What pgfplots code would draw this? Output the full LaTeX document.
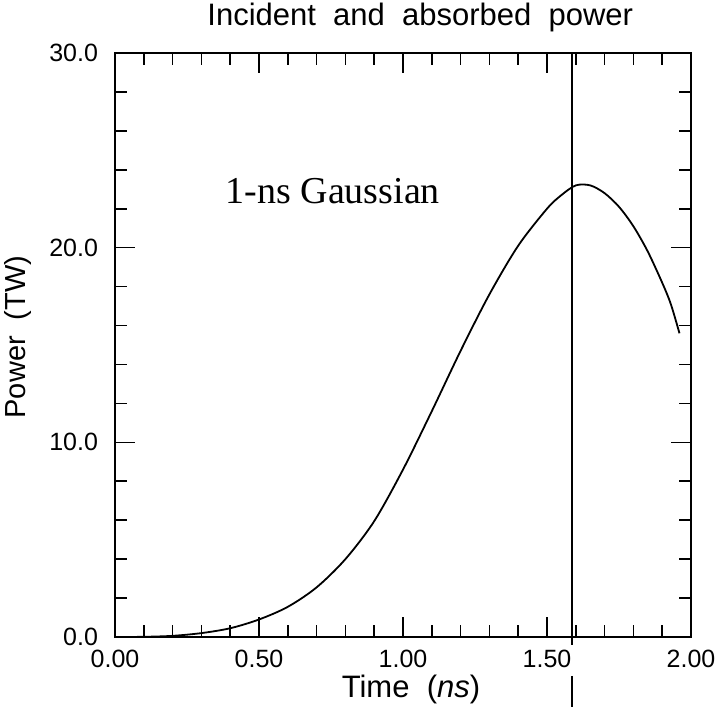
\documentclass[border=0pt]{standalone}
\usepackage{fontspec}
\setmainfont{Liberation Sans}
\newfontfamily\gfont{Liberation Serif}
\usepackage{pgfplots}
\pgfplotsset{compat=1.18}
\begin{document}
\begin{tikzpicture}
\useasboundingbox (-57.5pt,-36pt) rectangle (301.5pt,318.5pt);
\begin{axis}[
  at={(0,0)}, anchor=south west,
  scale only axis, width=288pt, height=292pt,
  xmin=0, xmax=2, ymin=0, ymax=30,
  xtick={0,0.5,1,1.5,2}, minor xtick={0.1,0.2,0.3,0.4,0.6,0.7,0.8,0.9,1.1,1.2,1.3,1.4,1.6,1.7,1.8,1.9},
  ytick={0,10,20,30}, minor ytick={2,4,6,8,12,14,16,18,22,24,26,28},
  tick align=inside, major tick length=10pt, minor tick length=6pt,
  xtick pos=both, ytick pos=both,
  xticklabel pos=bottom, yticklabel pos=left,
  tick style={black, line width=0.8pt},
  axis line style={line width=1pt},
  /pgf/number format/assume math mode=true,
  xticklabel style={/pgf/number format/.cd, fixed, fixed zerofill, precision=2, /tikz/.cd, font=\fontsize{12.5}{14}\selectfont, yshift=-3pt},
  yticklabel style={/pgf/number format/.cd, fixed, fixed zerofill, precision=1, /tikz/.cd, font=\fontsize{12.5}{14}\selectfont, xshift=-5pt},
  xlabel={Time\ \ (\textit{ns})},
  ylabel={Power\ \ (TW)},
  xlabel style={font=\fontsize{15.5}{17}\selectfont, yshift=3pt, xshift=4pt},
  ylabel style={font=\fontsize{14.5}{16}\selectfont, yshift=2pt, xshift=4pt},
  clip=false,
]
\addplot[black, line width=0.9pt, smooth] coordinates {
(0.00,0.00) (0.10,0.01) (0.20,0.06) (0.30,0.20) (0.40,0.45) (0.50,0.90)
(0.60,1.55) (0.70,2.55) (0.80,4.0) (0.90,5.95) (1.00,8.6) (1.10,11.6)
(1.20,14.7) (1.30,17.6) (1.40,20.1) (1.50,22.0) (1.55,22.7) (1.60,23.2)
(1.65,23.2) (1.70,22.8) (1.75,22.1) (1.80,21.1) (1.85,19.8) (1.90,18.2) (1.93,17.1) (1.96,15.6)
};
\addplot[black, line width=1pt] coordinates {(1.588,30) (1.588,-0.4)};
\addplot[black, line width=1pt] coordinates {(1.588,-2.0) (1.588,-3.6)};
\node[anchor=west, font=\gfont\fontsize{19}{21}\selectfont] at (axis cs:0.36,22.9) {1-ns Gaussian};
\node[font=\fontsize{15.5}{17}\selectfont, anchor=base] at (axis cs:1.06,31.4) {Incident\ \ and\ \ absorbed\ \ power};
\end{axis}
\end{tikzpicture}
\end{document}
